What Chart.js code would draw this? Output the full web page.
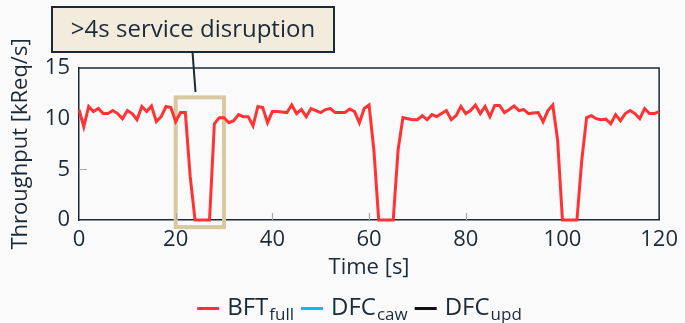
<!DOCTYPE html>
<html>
<head>
<meta charset="utf-8">
<script src="https://cdn.jsdelivr.net/npm/chart.js@4.4.0/dist/chart.umd.min.js"></script>
<style>
  html, body { margin: 0; padding: 0; background: #fafafa; }
  #wrap { width: 685px; height: 323px; }
</style>
</head>
<body>
<div id="wrap"><canvas id="chart" width="685" height="323"></canvas></div>
<script>
// --- data ---
const timeSec = [
  0, 1, 2, 3, 4, 5, 6, 7, 8, 9, 10, 11, 12, 13, 14, 15, 16, 17, 18, 19,
  20, 21, 22, 23, 24, 25, 26, 27, 28, 29, 30, 31, 32, 33, 34, 35, 36, 37, 38, 39,
  40, 41, 42, 43, 44, 45, 46, 47, 48, 49, 50, 51, 52, 53, 54, 55, 56, 57, 58, 59,
  60, 61, 62, 63, 64, 65, 66, 67, 68, 69, 70, 71, 72, 73, 74, 75, 76, 77, 78, 79,
  80, 81, 82, 83, 84, 85, 86, 87, 88, 89, 90, 91, 92, 93, 94, 95, 96, 97, 98, 99,
  100, 101, 102, 103, 104, 105, 106, 107, 108, 109, 110, 111, 112, 113, 114, 115, 116, 117, 118, 119,
  120
];
const bftFull = [
  10.9, 9.2, 11.2, 10.7, 11.0, 10.5, 10.5, 10.8, 10.5, 10.0, 10.8, 10.5, 9.9, 11.2, 10.7, 11.25, 9.7, 10.2, 11.2, 11.1,
  9.7, 10.6, 10.6, 4.3, 0, 0, 0, 0, 9.5, 10.1, 10.1, 9.6, 9.8, 10.4, 10.2, 10.2, 9.3, 11.2, 11.1, 9.6,
  10.7, 10.7, 10.65, 10.6, 11.35, 10.5, 10.9, 10.2, 11.0, 10.8, 10.6, 10.9, 11.0, 10.6, 10.6, 10.6, 10.95, 10.7, 9.6, 11.0,
  11.35, 6.9, 0, 0, 0, 0, 6.9, 10.1, 10.0, 9.9, 9.9, 10.3, 9.9, 10.4, 10.2, 10.5, 10.8, 9.9, 10.3, 11.2,
  10.5, 10.8, 11.35, 10.5, 11.2, 10.2, 11.3, 11.3, 10.6, 10.9, 11.25, 10.8, 10.9, 10.5, 10.55, 10.6, 9.7, 10.8, 11.35, 7.9,
  0, 0, 0, 0, 5.9, 10.1, 10.3, 10.0, 9.9, 9.95, 9.5, 10.4, 9.8, 10.5, 10.8, 10.5, 10.0, 11.0, 10.5, 10.5,
  10.7
];
const dfcCaw = [];   // not visible in this window
const dfcUpd = [];

const seriesNames = ['BFT', 'DFC', 'DFC'];
const seriesSubs = ['full', 'caw', 'upd'];
const seriesColors = ['#ff3333', '#1cb4f0', '#111111'];

const xTicks = [0, 20, 40, 60, 80, 100, 120];
const yTicks = [0, 5, 10, 15];

// highlighted disruption window (data units)
const highlightX = [20, 30];
const highlightY = [-0.7, 12.1];
const calloutText = '>4s service disruption';

const ink = '#1b2a38';
const fontFamily = "'Open Sans', 'Noto Sans', sans-serif";

const framePlugin = {
    id: 'frame',
    beforeDatasetsDraw(chart) {
        const { ctx, chartArea: a, scales: { x, y } } = chart;
        ctx.save();

        // disruption window box
        const l = x.getPixelForValue(highlightX[0]);
        const r = x.getPixelForValue(highlightX[1]);
        const t = y.getPixelForValue(highlightY[1]);
        const b = y.getPixelForValue(highlightY[0]);
        ctx.strokeStyle = '#d8c99e';
        ctx.lineWidth = 4;
        ctx.strokeRect(l, t, r - l, b - t);

        // inward tick marks
        ctx.strokeStyle = '#a8a8a8';
        ctx.lineWidth = 1.2;
        ctx.beginPath();
        xTicks.slice(1, -1).forEach(v => {
            const px = Math.round(x.getPixelForValue(v)) + 0.5;
            ctx.moveTo(px, a.bottom);
            ctx.lineTo(px, a.bottom - 7);
        });
        yTicks.slice(1, -1).forEach(v => {
            const py = Math.round(y.getPixelForValue(v)) + 0.5;
            ctx.moveTo(a.left, py);
            ctx.lineTo(a.left + 8, py);
        });
        ctx.stroke();

        // top and right edges of the frame
        ctx.strokeStyle = ink;
        ctx.lineWidth = 1.5;
        ctx.beginPath();
        ctx.moveTo(a.left, a.top);
        ctx.lineTo(a.right, a.top);
        ctx.lineTo(a.right, a.bottom);
        ctx.stroke();
        ctx.restore();
    },
    afterDraw(chart) {
        const { ctx, scales: { x } } = chart;
        ctx.save();

        // callout box + pointer
        ctx.fillStyle = '#f3ecdd';
        ctx.fillRect(52, 7, 282, 45);
        ctx.strokeStyle = ink;
        ctx.lineWidth = 2;
        ctx.strokeRect(52, 7, 282, 45);
        ctx.beginPath();
        ctx.moveTo(192.5, 52);
        ctx.lineTo(195.5, 92);
        ctx.stroke();
        ctx.fillStyle = ink;
        ctx.font = `24px ${fontFamily}`;
        ctx.textBaseline = 'middle';
        ctx.textAlign = 'center';
        ctx.fillText(calloutText, 193, 30);

        // legend with subscripts
        const mainFont = `24px ${fontFamily}`;
        const subFont = `17px ${fontFamily}`;
        const items = chart.data.datasets.map((ds, i) => {
            ctx.font = mainFont;
            const mw = ctx.measureText(ds.label).width;
            ctx.font = subFont;
            const sw = ctx.measureText(seriesSubs[i]).width;
            return { ds, i, mw, sw };
        });
        const lineLen = 22, gapLine = 8, gapItem = 7;
        let total = 0;
        items.forEach(it => { total += lineLen + gapLine + it.mw + 1 + it.sw; });
        total += gapItem * (items.length - 1);
        let cx = 359.5 - total / 2;
        const baseY = 315;
        items.forEach(it => {
            ctx.strokeStyle = it.ds.borderColor;
            ctx.lineWidth = 3;
            ctx.beginPath();
            ctx.moveTo(cx, 308.5);
            ctx.lineTo(cx + lineLen, 308.5);
            ctx.stroke();
            cx += lineLen + gapLine;
            ctx.fillStyle = ink;
            ctx.textAlign = 'left';
            ctx.textBaseline = 'alphabetic';
            ctx.font = mainFont;
            ctx.fillText(it.ds.label, cx, baseY);
            cx += it.mw + 1;
            ctx.font = subFont;
            ctx.fillText(seriesSubs[it.i], cx, baseY + 5);
            cx += it.sw + gapItem;
        });
        ctx.restore();
    }
};

const series = [bftFull, dfcCaw, dfcUpd];

new Chart(document.getElementById('chart'), {
    type: 'line',
    data: {
        labels: timeSec,
        datasets: series.map((vals, i) => ({
            label: seriesNames[i],
            data: vals.map((v, k) => ({ x: timeSec[k], y: v })),
            borderColor: seriesColors[i],
            backgroundColor: seriesColors[i],
            borderWidth: 3,
            pointRadius: 0,
            tension: 0,
            fill: false,
            clip: false,
        })),
    },
    options: {
        responsive: false,
        animation: false,
        layout: { padding: { top: 68, right: 25, left: 0, bottom: 0 } },
        plugins: { legend: { display: false }, tooltip: { enabled: false } },
        scales: {
            x: {
                type: 'linear',
                min: 0,
                max: 120,
                afterFit: s => { s.height = 103; },
                afterBuildTicks: s => { s.ticks = xTicks.map(v => ({ value: v })); },
                grid: { display: false, drawTicks: false },
                border: { display: true, color: ink, width: 1.5 },
                ticks: { color: ink, padding: 7, maxRotation: 0, font: { size: 22, family: fontFamily } },
                title: {
                    display: true, text: 'Time [s]', color: ink,
                    font: { size: 22, family: fontFamily },
                    padding: { top: 0, bottom: 42 },
                },
            },
            y: {
                min: 0,
                max: 15,
                afterFit: s => { s.width = 79; },
                afterBuildTicks: s => { s.ticks = yTicks.map(v => ({ value: v })); },
                grid: { display: false, drawTicks: false },
                border: { display: true, color: ink, width: 1.5 },
                ticks: { color: ink, padding: 9, font: { size: 22, family: fontFamily } },
                title: {
                    display: true, text: 'Throughput [kReq/s]', color: ink,
                    font: { size: 22, family: fontFamily },
                    padding: { top: 8, bottom: 0 },
                },
            },
        },
    },
    plugins: [framePlugin],
});
</script>
</body>
</html>
